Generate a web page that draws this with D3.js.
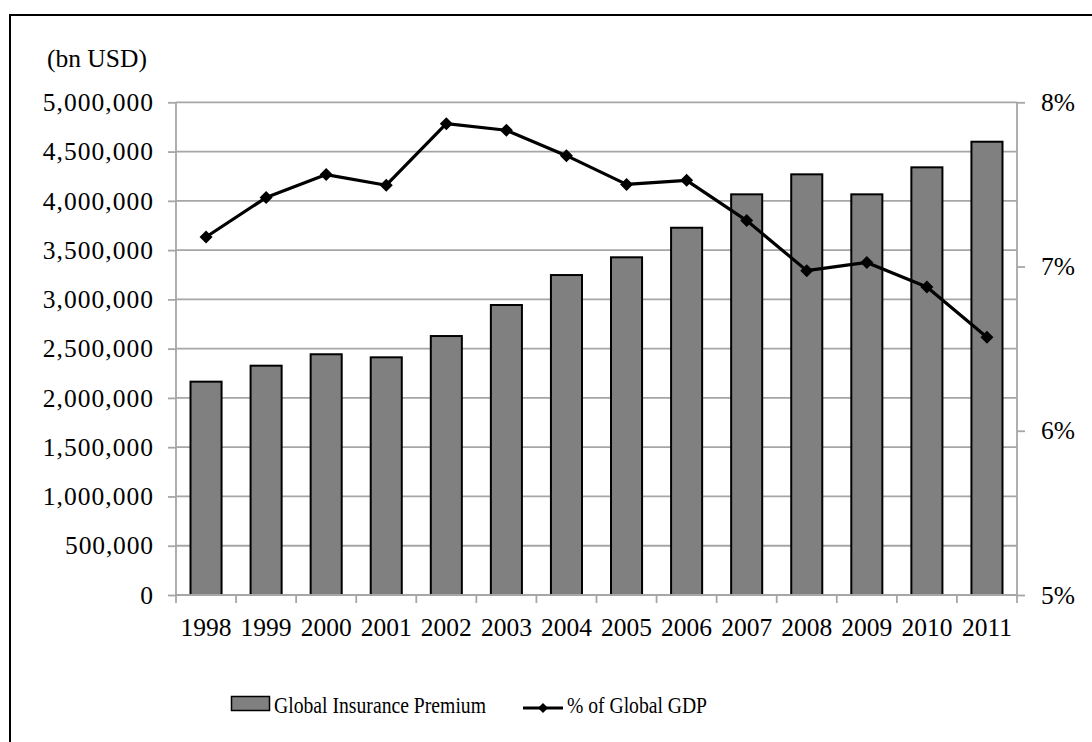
<!DOCTYPE html>
<html>
<head>
<meta charset="utf-8">
<script src="https://cdn.jsdelivr.net/npm/d3@7/dist/d3.min.js"></script>
<style>
  html, body { margin: 0; padding: 0; background: #fff; }
  svg { display: block; }
  text { font-family: "Liberation Serif", "Times New Roman", serif; fill: #000; }
</style>
</head>
<body>
<svg id="chart" width="1092" height="742"></svg>
<script>
// Global insurance premiums (bn USD) and their share of global GDP
const years = ["1998","1999","2000","2001","2002","2003","2004","2005","2006","2007","2008","2009","2010","2011"];
const premium = [2165000, 2327000, 2443000, 2412000, 2628000, 2943000, 3247000, 3427000, 3727000, 4066000, 4269000, 4066000, 4340000, 4600000];
const gdpShare = [7.18, 7.42, 7.56, 7.495, 7.87, 7.83, 7.675, 7.50, 7.525, 7.28, 6.975, 7.025, 6.875, 6.57];
const leftTicks = [0, 500000, 1000000, 1500000, 2000000, 2500000, 3000000, 3500000, 4000000, 4500000, 5000000];
const rightTicks = [5, 6, 7, 8];
const unitLabel = "(bn USD)";
const seriesNames = ["Global Insurance Premium", "% of Global GDP"];

const svg = d3.select("#chart");
const W = 1092, H = 742;
const plotLeft = 176, plotRight = 1017, plotTop = 102.3, plotBottom = 595;
const gridColor = "#a6a6a6";
const fs = 25.5;

// outer frame (right and bottom edges fall outside the canvas)
svg.append("rect")
  .attr("x", 10).attr("y", 15).attr("width", W + 20).attr("height", H + 20)
  .attr("fill", "#fff").attr("stroke", "#000").attr("stroke-width", 2);

const x = d3.scaleBand().domain(years).range([plotLeft, plotRight]).paddingInner(0.483).paddingOuter(0.2415);
const y = d3.scaleLinear().domain([0, 5000000]).range([plotBottom, plotTop]);
const y2 = d3.scaleLinear().domain([5, 8]).range([plotBottom, plotTop]);

// horizontal gridlines
svg.append("g").selectAll("line").data(leftTicks.slice(1)).join("line")
  .attr("x1", plotLeft).attr("x2", plotRight)
  .attr("y1", d => y(d)).attr("y2", d => y(d))
  .attr("stroke", gridColor).attr("stroke-width", 1.8);

// left axis
const gl = svg.append("g").attr("transform", `translate(${plotLeft},0)`)
  .call(d3.axisLeft(y).tickValues(leftTicks).tickSize(8).tickPadding(15).tickFormat(d3.format(",")));
gl.select(".domain").attr("stroke", gridColor).attr("stroke-width", 1.8).attr("d", `M0,${plotTop}V${plotBottom}`);
gl.selectAll(".tick line").attr("stroke", gridColor).attr("stroke-width", 1.8);
gl.selectAll("text").attr("font-size", fs).attr("font-family", "Liberation Serif, serif")
  .each(function () {
    // spread the grouped digits to the wider comma spacing of the labels
    const s = this.textContent;
    const nDigits = (s.match(/\d/g) || []).length;
    const nCommas = (s.match(/,/g) || []).length;
    const target = nDigits * 13.1 + nCommas * 9.3;
    d3.select(this).attr("textLength", target).attr("lengthAdjust", "spacing");
  });

// right axis
const gr = svg.append("g").attr("transform", `translate(${plotRight},0)`)
  .call(d3.axisRight(y2).tickValues(rightTicks).tickSize(8).tickPadding(16).tickFormat(d => d + "%"));
gr.select(".domain").attr("stroke", gridColor).attr("stroke-width", 1.8).attr("d", `M0,${plotTop}V${plotBottom}`);
gr.selectAll(".tick line").attr("stroke", gridColor).attr("stroke-width", 1.8);
gr.selectAll("text").attr("font-size", fs).attr("font-family", "Liberation Serif, serif");

// bars
svg.append("g").selectAll("rect").data(years).join("rect")
  .attr("x", d => x(d)).attr("width", x.bandwidth())
  .attr("y", (d, i) => y(premium[i])).attr("height", (d, i) => y(0) - y(premium[i]))
  .attr("fill", "#808080").attr("stroke", "#000").attr("stroke-width", 2);

// bottom axis: baseline, tick marks at category boundaries, year labels
const gb = svg.append("g").attr("transform", `translate(0,${plotBottom})`)
  .call(d3.axisBottom(x).tickSize(0).tickPadding(23));
gb.select(".domain").attr("stroke", gridColor).attr("stroke-width", 1.8).attr("d", `M${plotLeft},0H${plotRight}`);
gb.selectAll("text").attr("font-size", fs).attr("font-family", "Liberation Serif, serif");
const step = x.step();
const edges = d3.range(years.length + 1).map(i => plotLeft + i * step);
gb.append("g").selectAll("line").data(edges).join("line")
  .attr("x1", d => d).attr("x2", d => d).attr("y1", 0).attr("y2", 8)
  .attr("stroke", gridColor).attr("stroke-width", 1.8);

// share-of-GDP line with diamond markers
const cx = d => x(d) + x.bandwidth() / 2;
const line = d3.line().x((d, i) => cx(years[i])).y(d => y2(d));
svg.append("path").datum(gdpShare).attr("d", line)
  .attr("fill", "none").attr("stroke", "#000").attr("stroke-width", 3.2).attr("stroke-linejoin", "round");
const diamond = "M0,-6.5L6.5,0L0,6.5L-6.5,0Z";
svg.append("g").selectAll("path").data(gdpShare).join("path")
  .attr("d", diamond)
  .attr("transform", (d, i) => `translate(${cx(years[i])},${y2(d)})`)
  .attr("fill", "#000");

// unit label
svg.append("text").attr("x", 47).attr("y", 67).attr("font-size", fs).text(unitLabel);

// legend
const lg = svg.append("g");
lg.append("rect").attr("x", 231.5).attr("y", 696.5).attr("width", 38).attr("height", 14)
  .attr("fill", "#808080").attr("stroke", "#000").attr("stroke-width", 1.5);
lg.append("text").attr("x", 274).attr("y", 713).attr("font-size", 24)
  .attr("textLength", 212).attr("lengthAdjust", "spacingAndGlyphs").text(seriesNames[0]);
lg.append("line").attr("x1", 523).attr("x2", 563).attr("y1", 708).attr("y2", 708)
  .attr("stroke", "#000").attr("stroke-width", 3);
lg.append("path").attr("d", "M0,-5L5,0L0,5L-5,0Z").attr("transform", "translate(543,708)").attr("fill", "#000");
lg.append("text").attr("x", 567).attr("y", 713).attr("font-size", 24)
  .attr("textLength", 140).attr("lengthAdjust", "spacingAndGlyphs").text(seriesNames[1]);
</script>
</body>
</html>
